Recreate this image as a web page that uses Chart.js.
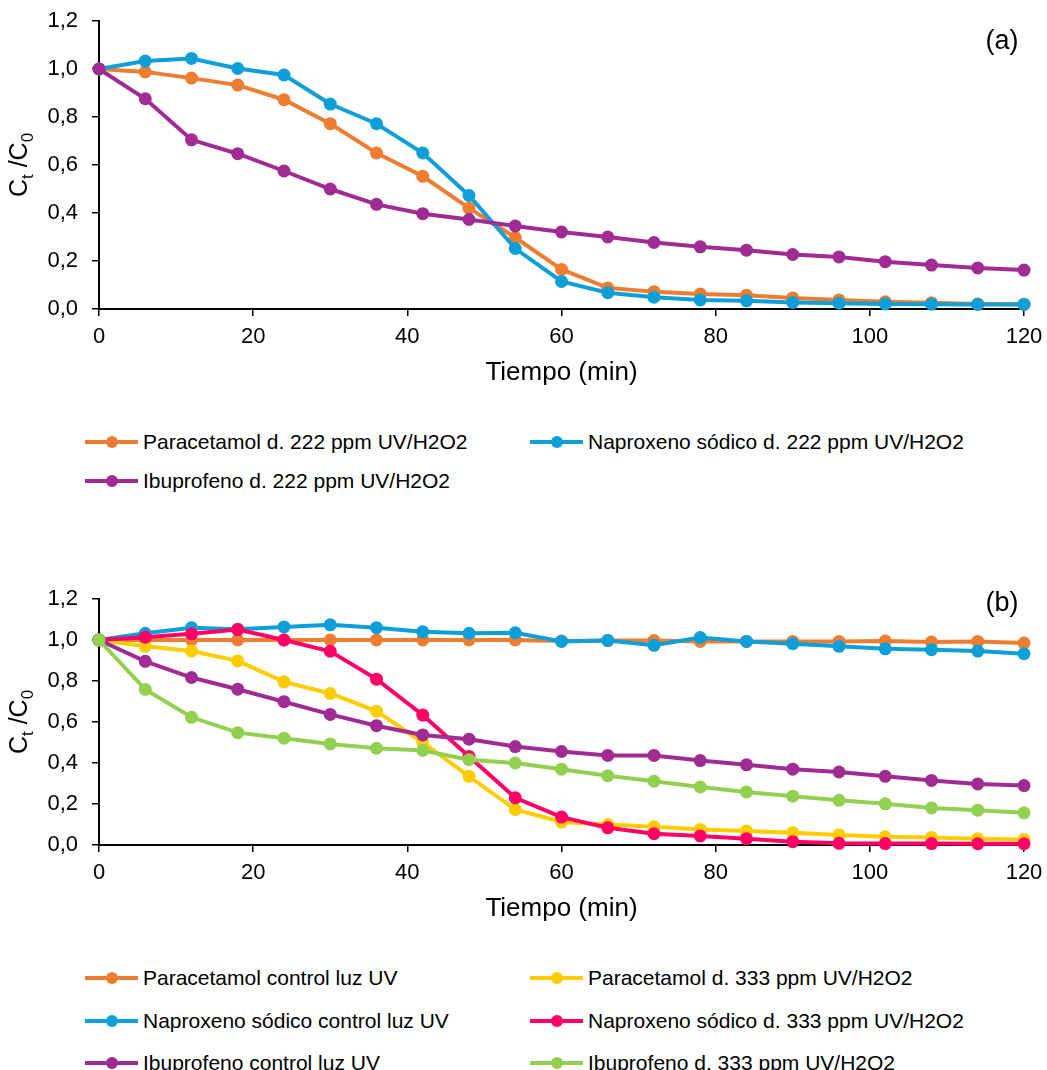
<!DOCTYPE html>
<html lang="es">
<head>
<meta charset="utf-8">
<title>Degradación UV/H2O2</title>
<script src="https://cdn.jsdelivr.net/npm/chart.js@4/dist/chart.umd.min.js"></script>
<style>
  body { margin: 0; background: #fff; font-family: "Liberation Sans", Arial, sans-serif; }
  #lienzo { position: relative; width: 1047px; height: 1070px; }
  canvas { position: absolute; left: 0; }
  .leyenda { position: absolute; left: 0; width: 1047px; }
  .item { position: absolute; display: flex; align-items: center; font-size: 21px; color: #000; white-space: nowrap; }
  .muestra { position: relative; width: 53px; height: 4px; margin-right: 5px; }
  .muestra span { position: absolute; left: 21px; top: -4px; width: 12px; height: 12px; border-radius: 50%; }
</style>
</head>
<body>
<div id="lienzo">
  <canvas id="graficoA" width="1047" height="400" style="top:0"></canvas>
  <canvas id="graficoB" width="1047" height="400" style="top:560px"></canvas>
  <div id="leyendaA" class="leyenda"></div>
  <div id="leyendaB" class="leyenda"></div>
</div>
<script>
// Tiempo de muestreo (min)
const tiempo = [0, 6, 12, 18, 24, 30, 36, 42, 48, 54, 60, 66, 72, 78, 84, 90, 96, 102, 108, 114, 120];

// (a) dosis 222 ppm UV/H2O2 — Ct/C0
const paracetamol222 = [1.0, 0.988, 0.962, 0.933, 0.872, 0.772, 0.650, 0.553, 0.420, 0.298, 0.165, 0.088, 0.072, 0.063, 0.057, 0.046, 0.038, 0.030, 0.026, 0.021, 0.020];
const naproxeno222 = [1.0, 1.033, 1.044, 1.002, 0.975, 0.854, 0.772, 0.650, 0.473, 0.252, 0.115, 0.068, 0.049, 0.038, 0.034, 0.027, 0.024, 0.021, 0.020, 0.019, 0.019];
const ibuprofeno222 = [1.0, 0.876, 0.705, 0.647, 0.575, 0.500, 0.436, 0.397, 0.373, 0.346, 0.321, 0.300, 0.277, 0.259, 0.245, 0.227, 0.217, 0.197, 0.183, 0.171, 0.162];

// (b) controles con luz UV y dosis 333 ppm UV/H2O2 — Ct/C0
const paracetamolControl = [1.0, 1.0, 1.0, 1.0, 1.0, 1.0, 1.0, 1.0, 1.0, 1.0, 0.995, 0.997, 0.997, 0.993, 0.993, 0.993, 0.993, 0.995, 0.990, 0.993, 0.985];
const naproxenoControl = [1.0, 1.033, 1.060, 1.053, 1.064, 1.074, 1.060, 1.040, 1.033, 1.035, 0.993, 0.998, 0.974, 1.012, 0.993, 0.982, 0.969, 0.957, 0.953, 0.946, 0.933];
const ibuprofenoControl = [1.0, 0.896, 0.817, 0.760, 0.699, 0.637, 0.582, 0.537, 0.516, 0.480, 0.456, 0.437, 0.437, 0.412, 0.391, 0.370, 0.356, 0.335, 0.315, 0.298, 0.290];
const paracetamol333 = [1.0, 0.969, 0.946, 0.898, 0.796, 0.739, 0.653, 0.500, 0.335, 0.173, 0.112, 0.100, 0.089, 0.076, 0.068, 0.060, 0.049, 0.040, 0.036, 0.031, 0.027];
const naproxeno333 = [1.0, 1.014, 1.030, 1.051, 1.0, 0.945, 0.809, 0.634, 0.432, 0.230, 0.136, 0.084, 0.055, 0.044, 0.031, 0.016, 0.008, 0.007, 0.007, 0.006, 0.006];
const ibuprofeno333 = [1.0, 0.759, 0.623, 0.548, 0.521, 0.493, 0.472, 0.461, 0.416, 0.400, 0.370, 0.338, 0.311, 0.283, 0.259, 0.238, 0.218, 0.201, 0.181, 0.170, 0.157];

const NARANJA = '#ED7D31', AZUL = '#0E9FD8', MORADO = '#A02B93';
const AMARILLO = '#FFCC00', ROSA = '#FF0066', VERDE = '#92D050';
const FUENTE = '"Liberation Sans", Arial, sans-serif';

const seriesA = [
  { nombre: 'Paracetamol d. 222 ppm UV/H2O2', valores: paracetamol222, color: NARANJA },
  { nombre: 'Naproxeno sódico d. 222 ppm UV/H2O2', valores: naproxeno222, color: AZUL },
  { nombre: 'Ibuprofeno d. 222 ppm UV/H2O2', valores: ibuprofeno222, color: MORADO }
];
const seriesB = [
  { nombre: 'Paracetamol control luz UV', valores: paracetamolControl, color: NARANJA },
  { nombre: 'Paracetamol d. 333 ppm UV/H2O2', valores: paracetamol333, color: AMARILLO },
  { nombre: 'Naproxeno sódico control luz UV', valores: naproxenoControl, color: AZUL },
  { nombre: 'Naproxeno sódico d. 333 ppm UV/H2O2', valores: naproxeno333, color: ROSA },
  { nombre: 'Ibuprofeno control luz UV', valores: ibuprofenoControl, color: MORADO },
  { nombre: 'Ibuprofeno d. 333 ppm UV/H2O2', valores: ibuprofeno333, color: VERDE }
];

// Títulos de ejes (con subíndices) y etiqueta del panel
const textosEjes = {
  id: 'textosEjes',
  afterDraw(chart, args, opts) {
    const { ctx, chartArea: a } = chart;
    ctx.save();
    ctx.fillStyle = '#000';
    ctx.font = '26px ' + FUENTE;
    ctx.textAlign = 'center';
    ctx.textBaseline = 'middle';
    ctx.fillText('Tiempo (min)', (a.left + a.right) / 2, a.bottom + 64);
    ctx.font = '27px ' + FUENTE;
    ctx.fillText(opts.etiqueta, a.right - 22, a.top + opts.dyEtiqueta);

    // Ct /C0 girado
    const partes = [['C', 25, 0], ['t', 17, 6], [' /C', 25, 0], ['0', 17, 6]];
    let total = 0;
    partes.forEach(p => { ctx.font = p[1] + 'px ' + FUENTE; total += ctx.measureText(p[0]).width; });
    ctx.translate(27, (a.top + a.bottom) / 2);
    ctx.rotate(-Math.PI / 2);
    ctx.textAlign = 'left';
    ctx.textBaseline = 'alphabetic';
    let x = -total / 2;
    partes.forEach(p => {
      ctx.font = p[1] + 'px ' + FUENTE;
      ctx.fillText(p[0], x, p[2]);
      x += ctx.measureText(p[0]).width;
    });
    ctx.restore();
  }
};

function crearGrafico(id, series, alturaEjeX, margenSup, etiqueta, dyEtiqueta) {
  const n = series.length;
  return new Chart(document.getElementById(id), {
    type: 'line',
    data: {
      datasets: series.map((s, i) => ({
        label: s.nombre,
        data: tiempo.map((t, k) => ({ x: t, y: s.valores[k] })),
        borderColor: s.color,
        backgroundColor: s.color,
        borderWidth: 4,
        pointRadius: 6.5,
        pointHoverRadius: 6.5,
        pointBorderWidth: 0,
        tension: 0,
        clip: false,
        order: n - i   // la última serie queda encima
      }))
    },
    options: {
      responsive: false,
      animation: false,
      layout: { autoPadding: false, padding: { left: 0, right: 23, top: margenSup, bottom: 0 } },
      plugins: {
        legend: { display: false },
        tooltip: { enabled: false },
        textosEjes: { etiqueta: etiqueta, dyEtiqueta: dyEtiqueta }
      },
      scales: {
        x: {
          type: 'linear',
          min: 0,
          max: 120,
          afterFit: (scale) => {
            scale.height = alturaEjeX;
            scale.paddingLeft = 0;
            scale.paddingRight = 0;
          },
          ticks: { stepSize: 20, color: '#000', font: { size: 22, family: FUENTE }, padding: 8, maxRotation: 0 },
          grid: { drawOnChartArea: false, drawTicks: true, tickLength: 7, color: '#000', lineWidth: 1.5 },
          border: { color: '#000', width: 2 }
        },
        y: {
          min: 0,
          max: 1.2,
          afterFit: (scale) => {
            scale.width = 99;
            scale.paddingTop = 0;
            scale.paddingBottom = 0;
          },
          ticks: {
            stepSize: 0.2,
            color: '#000',
            font: { size: 22, family: FUENTE },
            padding: 14,
            callback: (v) => v.toFixed(1).replace('.', ',')
          },
          grid: { drawOnChartArea: false, drawTicks: true, tickLength: 7, color: '#000', lineWidth: 1.5 },
          border: { color: '#000', width: 2 }
        }
      }
    },
    plugins: [textosEjes]
  });
}

// Leyenda en dos columnas, llenando por filas
function crearLeyenda(id, series, filasY) {
  const caja = document.getElementById(id);
  const columnasX = [85, 530];
  series.forEach((s, i) => {
    const item = document.createElement('div');
    item.className = 'item';
    item.style.left = columnasX[i % 2] + 'px';
    item.style.top = (filasY[Math.floor(i / 2)] - 13) + 'px';
    const muestra = document.createElement('div');
    muestra.className = 'muestra';
    muestra.style.background = s.color;
    const punto = document.createElement('span');
    punto.style.background = s.color;
    muestra.appendChild(punto);
    item.appendChild(muestra);
    item.appendChild(document.createTextNode(s.nombre));
    caja.appendChild(item);
  });
}

crearGrafico('graficoA', seriesA, 91, 21, '(a)', 21);
crearGrafico('graficoB', seriesB, 115, 39, '(b)', 5);
crearLeyenda('leyendaA', seriesA, [443, 482]);
crearLeyenda('leyendaB', seriesB, [979, 1022, 1064]);
</script>
</body>
</html>
